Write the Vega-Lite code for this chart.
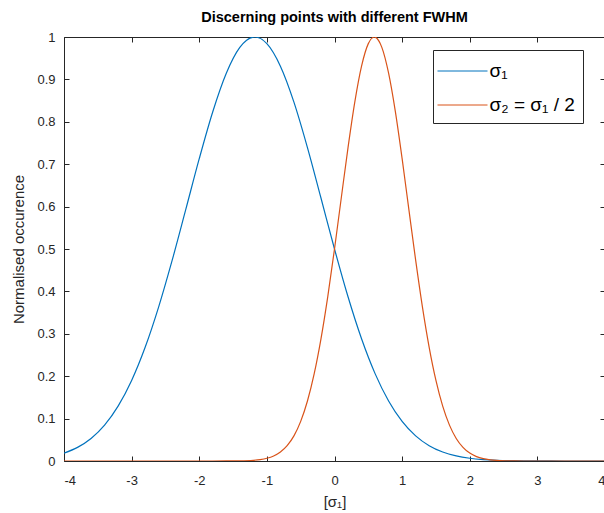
{
  "$schema": "https://vega.github.io/schema/vega-lite/v6.json",
  "autosize": "none",
  "padding": {"left": 64, "top": 37, "right": 0, "bottom": 52},
  "width": 541,
  "height": 424,
  "background": "white",
  "config": {
    "font": "Liberation Sans",
    "view": {"stroke": "#262626", "strokeWidth": 1},
    "axis": {"grid": false, "domainColor": "#262626", "tickColor": "#262626", "labelColor": "#262626", "labelFontSize": 13, "labelFont": "Liberation Sans", "titleFont": "Liberation Sans", "titleFontWeight": "normal", "titleColor": "#262626", "titleFontSize": 15, "tickSize": -5}
  },
  "title": {"text": "Discerning points with different FWHM", "fontSize": 14.5, "fontWeight": "bold", "font": "Liberation Sans", "color": "#000000", "offset": 6, "anchor": "middle"},
  "data": {"values": [
    {"x": -4.0, "y": 0.01862, "s": "σ₁"},
    {"x": -3.8, "y": 0.03210, "s": "σ₁"},
    {"x": -3.6, "y": 0.05316, "s": "σ₁"},
    {"x": -3.4, "y": 0.08458, "s": "σ₁"},
    {"x": -3.2, "y": 0.12932, "s": "σ₁"},
    {"x": -3.0, "y": 0.18995, "s": "σ₁"},
    {"x": -2.8, "y": 0.26810, "s": "σ₁"},
    {"x": -2.6, "y": 0.36353, "s": "σ₁"},
    {"x": -2.4, "y": 0.47362, "s": "σ₁"},
    {"x": -2.2, "y": 0.59282, "s": "σ₁"},
    {"x": -2.0, "y": 0.71296, "s": "σ₁"},
    {"x": -1.8, "y": 0.82381, "s": "σ₁"},
    {"x": -1.6, "y": 0.91458, "s": "σ₁"},
    {"x": -1.4, "y": 0.97553, "s": "σ₁"},
    {"x": -1.2, "y": 0.99974, "s": "σ₁"},
    {"x": -1.177, "y": 1.0, "s": "σ₁"},
    {"x": -1.0, "y": 0.98438, "s": "σ₁"},
    {"x": -0.8, "y": 0.93125, "s": "σ₁"},
    {"x": -0.6, "y": 0.84646, "s": "σ₁"},
    {"x": -0.4, "y": 0.73921, "s": "σ₁"},
    {"x": -0.2, "y": 0.62023, "s": "σ₁"},
    {"x": 0.0, "y": 0.5, "s": "σ₁"},
    {"x": 0.2, "y": 0.38727, "s": "σ₁"},
    {"x": 0.4, "y": 0.28820, "s": "σ₁"},
    {"x": 0.6, "y": 0.20606, "s": "σ₁"},
    {"x": 0.8, "y": 0.14156, "s": "σ₁"},
    {"x": 1.0, "y": 0.09343, "s": "σ₁"},
    {"x": 1.2, "y": 0.05925, "s": "σ₁"},
    {"x": 1.4, "y": 0.03610, "s": "σ₁"},
    {"x": 1.6, "y": 0.02113, "s": "σ₁"},
    {"x": 1.8, "y": 0.01189, "s": "σ₁"},
    {"x": 2.0, "y": 0.00642, "s": "σ₁"},
    {"x": 2.2, "y": 0.00334, "s": "σ₁"},
    {"x": 2.4, "y": 0.00166, "s": "σ₁"},
    {"x": 2.6, "y": 0.00080, "s": "σ₁"},
    {"x": 2.8, "y": 0.00037, "s": "σ₁"},
    {"x": 3.0, "y": 0.00016, "s": "σ₁"},
    {"x": 3.4, "y": 0.00003, "s": "σ₁"},
    {"x": 4.0, "y": 0.0, "s": "σ₁"},
    {"x": -4.0, "y": 0.0, "s": "σ₂ = σ₁ / 2"},
    {"x": -2.0, "y": 0.0, "s": "σ₂ = σ₁ / 2"},
    {"x": -1.6, "y": 0.00007, "s": "σ₂ = σ₁ / 2"},
    {"x": -1.4, "y": 0.00037, "s": "σ₂ = σ₁ / 2"},
    {"x": -1.2, "y": 0.00166, "s": "σ₂ = σ₁ / 2"},
    {"x": -1.1, "y": 0.00334, "s": "σ₂ = σ₁ / 2"},
    {"x": -1.0, "y": 0.00642, "s": "σ₂ = σ₁ / 2"},
    {"x": -0.9, "y": 0.01189, "s": "σ₂ = σ₁ / 2"},
    {"x": -0.8, "y": 0.02113, "s": "σ₂ = σ₁ / 2"},
    {"x": -0.7, "y": 0.03610, "s": "σ₂ = σ₁ / 2"},
    {"x": -0.6, "y": 0.05925, "s": "σ₂ = σ₁ / 2"},
    {"x": -0.5, "y": 0.09343, "s": "σ₂ = σ₁ / 2"},
    {"x": -0.4, "y": 0.14156, "s": "σ₂ = σ₁ / 2"},
    {"x": -0.3, "y": 0.20606, "s": "σ₂ = σ₁ / 2"},
    {"x": -0.2, "y": 0.28820, "s": "σ₂ = σ₁ / 2"},
    {"x": -0.1, "y": 0.38727, "s": "σ₂ = σ₁ / 2"},
    {"x": 0.0, "y": 0.5, "s": "σ₂ = σ₁ / 2"},
    {"x": 0.1, "y": 0.62023, "s": "σ₂ = σ₁ / 2"},
    {"x": 0.2, "y": 0.73921, "s": "σ₂ = σ₁ / 2"},
    {"x": 0.3, "y": 0.84646, "s": "σ₂ = σ₁ / 2"},
    {"x": 0.4, "y": 0.93125, "s": "σ₂ = σ₁ / 2"},
    {"x": 0.5, "y": 0.98438, "s": "σ₂ = σ₁ / 2"},
    {"x": 0.589, "y": 1.0, "s": "σ₂ = σ₁ / 2"},
    {"x": 0.6, "y": 0.99974, "s": "σ₂ = σ₁ / 2"},
    {"x": 0.7, "y": 0.97553, "s": "σ₂ = σ₁ / 2"},
    {"x": 0.8, "y": 0.91458, "s": "σ₂ = σ₁ / 2"},
    {"x": 0.9, "y": 0.82381, "s": "σ₂ = σ₁ / 2"},
    {"x": 1.0, "y": 0.71296, "s": "σ₂ = σ₁ / 2"},
    {"x": 1.1, "y": 0.59282, "s": "σ₂ = σ₁ / 2"},
    {"x": 1.2, "y": 0.47362, "s": "σ₂ = σ₁ / 2"},
    {"x": 1.3, "y": 0.36353, "s": "σ₂ = σ₁ / 2"},
    {"x": 1.4, "y": 0.26810, "s": "σ₂ = σ₁ / 2"},
    {"x": 1.5, "y": 0.18995, "s": "σ₂ = σ₁ / 2"},
    {"x": 1.6, "y": 0.12932, "s": "σ₂ = σ₁ / 2"},
    {"x": 1.7, "y": 0.08458, "s": "σ₂ = σ₁ / 2"},
    {"x": 1.8, "y": 0.05316, "s": "σ₂ = σ₁ / 2"},
    {"x": 1.9, "y": 0.03210, "s": "σ₂ = σ₁ / 2"},
    {"x": 2.0, "y": 0.01862, "s": "σ₂ = σ₁ / 2"},
    {"x": 2.1, "y": 0.01038, "s": "σ₂ = σ₁ / 2"},
    {"x": 2.2, "y": 0.00556, "s": "σ₂ = σ₁ / 2"},
    {"x": 2.3, "y": 0.00286, "s": "σ₂ = σ₁ / 2"},
    {"x": 2.4, "y": 0.00141, "s": "σ₂ = σ₁ / 2"},
    {"x": 2.6, "y": 0.00031, "s": "σ₂ = σ₁ / 2"},
    {"x": 2.8, "y": 0.00006, "s": "σ₂ = σ₁ / 2"},
    {"x": 3.2, "y": 0.0, "s": "σ₂ = σ₁ / 2"},
    {"x": 4.0, "y": 0.0, "s": "σ₂ = σ₁ / 2"}
  ]},
  "encoding": {
    "x": {"field": "x", "type": "quantitative", "scale": {"domain": [-4, 4], "nice": false, "zero": false}},
    "y": {"field": "y", "type": "quantitative", "scale": {"domain": [0, 1], "nice": false}}
  },
  "layer": [
    {
      "mark": {"type": "line", "strokeWidth": 1.2, "interpolate": "monotone", "clip": true},
      "encoding": {
        "x": {"field": "x", "type": "quantitative", "axis": {"title": "[σ₁]", "values": [-4, -3, -2, -1, 0, 1, 2, 3, 4], "labelExpr": "'' + datum.value", "labelPadding": 18, "titlePadding": 7, "domain": false}},
        "y": {"field": "y", "type": "quantitative", "axis": {"title": "Normalised occurence", "values": [0, 0.1, 0.2, 0.3, 0.4, 0.5, 0.6, 0.7, 0.8, 0.9, 1], "labelExpr": "'' + datum.value", "labelPadding": 14, "titlePadding": 10, "domain": false}},
        "color": {"field": "s", "type": "nominal", "scale": {"domain": ["σ₁", "σ₂ = σ₁ / 2"], "range": ["#0072BD", "#D95319"]},
          "legend": {"orient": "none", "legendX": 369, "legendY": 13, "title": null, "strokeColor": "#262626", "fillColor": "white", "padding": 8, "symbolType": "M-2,0H2", "symbolSize": 625, "symbolStrokeWidth": 1, "symbolOffset": 8.5, "labelFontSize": 19, "labelFont": "Liberation Sans", "labelColor": "#000000", "rowPadding": 11, "labelOffset": 14,
            "encode": {"symbols": {"update": {"stroke": {"scale": "color", "field": "value"}, "fill": {"value": "transparent"}}}}}}
      }
    },
    {
      "mark": {"type": "line", "strokeOpacity": 0},
      "encoding": {
        "detail": {"field": "s"},
        "x": {"field": "x", "type": "quantitative", "axis": {"orient": "top", "title": null, "labels": false, "values": [-4, -3, -2, -1, 0, 1, 2, 3, 4], "domain": false}},
        "y": {"field": "y", "type": "quantitative", "axis": {"orient": "right", "title": null, "labels": false, "values": [0, 0.1, 0.2, 0.3, 0.4, 0.5, 0.6, 0.7, 0.8, 0.9, 1], "domain": false}}
      }
    }
  ],
  "resolve": {"axis": {"x": "independent", "y": "independent"}}
}
